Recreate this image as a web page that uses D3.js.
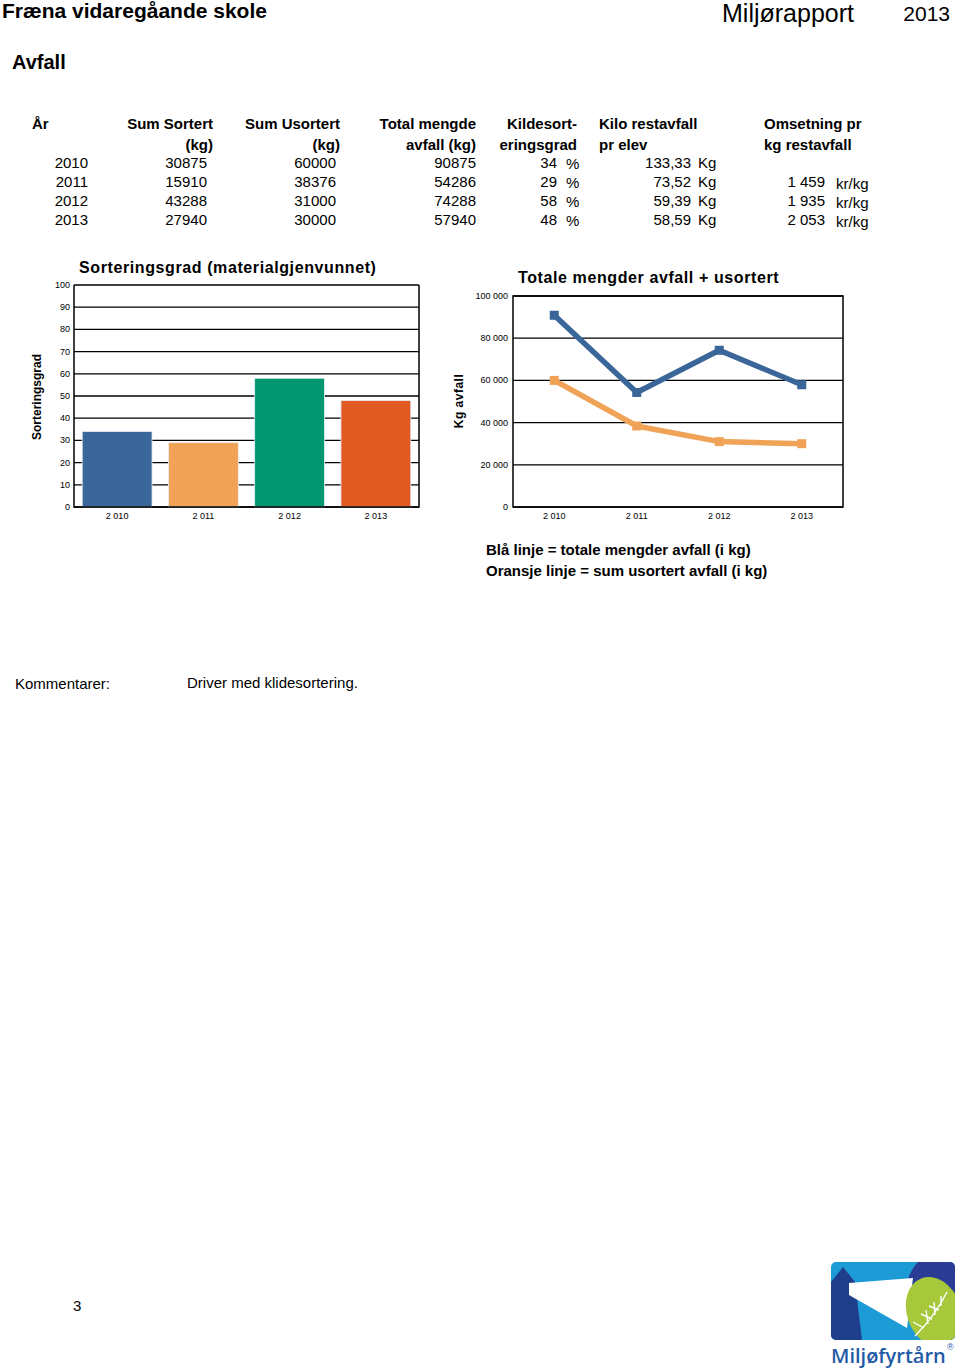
<!DOCTYPE html>
<html>
<head>
<meta charset="utf-8">
<script src="https://cdn.jsdelivr.net/npm/d3@7"></script>
<style>
  body { margin: 0; background: #fff; }
  svg { display: block; font-family: "Liberation Sans", Arial, sans-serif; }
</style>
</head>
<body>
<svg id="page" width="960" height="1371"></svg>
<script>
// data
const years = ["2010", "2011", "2012", "2013"];
const yearTicks = ["2 010", "2 011", "2 012", "2 013"];
const sumSortert = [30875, 15910, 43288, 27940];
const sumUsortert = [60000, 38376, 31000, 30000];
const totalMengde = [90875, 54286, 74288, 57940];
const sorteringsgrad = [34, 29, 58, 48];
const kiloPrElev = ["133,33", "73,52", "59,39", "58,59"];
const omsetning = ["", "1 459", "1 935", "2 053"];
const barColors = ["#3a6699", "#f0a356", "#009670", "#e05a22"];

const svg = d3.select("#page");

// --- header ---
svg.append("text").attr("x", 2).attr("y", 18)
    .attr("font-size", 21).attr("font-weight", "bold").text("Fræna vidaregåande skole");
svg.append("text").attr("x", 722).attr("y", 22)
    .attr("font-size", 25).text("Miljørapport");
svg.append("text").attr("x", 950).attr("y", 21).attr("text-anchor", "end")
    .attr("font-size", 21).text("2013");
svg.append("text").attr("x", 12).attr("y", 69)
    .attr("font-size", 20).attr("font-weight", "bold").text("Avfall");

// --- table ---
const tbl = svg.append("g").attr("font-size", 15);
const hdr = tbl.append("g").attr("font-weight", "bold");
function t(g, x, y, s, anchor) {
    g.append("text").attr("x", x).attr("y", y).attr("text-anchor", anchor || "start").text(s);
}
t(hdr, 32, 129, "År");
t(hdr, 213, 129, "Sum Sortert", "end");   t(hdr, 213, 150, "(kg)", "end");
t(hdr, 340, 129, "Sum Usortert", "end");  t(hdr, 340, 150, "(kg)", "end");
t(hdr, 476, 129, "Total mengde", "end");  t(hdr, 476, 150, "avfall (kg)", "end");
t(hdr, 577, 129, "Kildesort-", "end");    t(hdr, 577, 150, "eringsgrad", "end");
t(hdr, 599, 129, "Kilo restavfall");      t(hdr, 599, 150, "pr elev");
t(hdr, 764, 129, "Omsetning pr");         t(hdr, 764, 150, "kg restavfall");

const rowY = d3.scaleLinear().domain([0, 3]).range([168, 225]);
years.forEach((yr, i) => {
    const y = rowY(i);
    t(tbl, 88, y, yr, "end");
    t(tbl, 207, y, sumSortert[i], "end");
    t(tbl, 336, y, sumUsortert[i], "end");
    t(tbl, 476, y, totalMengde[i], "end");
    t(tbl, 557, y, sorteringsgrad[i], "end");
    t(tbl, 566, y + 1, "%");
    t(tbl, 691, y, kiloPrElev[i], "end");
    t(tbl, 698, y, "Kg");
    if (omsetning[i]) {
        t(tbl, 825, y, omsetning[i], "end");
        t(tbl, 836, y + 2, "kr/kg");
    }
});

// --- bar chart: Sorteringsgrad ---
const bar = { left: 74, right: 419, top: 285, bottom: 507 };
const bx = d3.scaleBand().domain(years).range([bar.left, bar.right]).paddingInner(0.19).paddingOuter(0.095);
const by = d3.scaleLinear().domain([0, 100]).range([bar.bottom, bar.top]);
const gb = svg.append("g");

gb.append("g").selectAll("line").data(d3.range(0, 101, 10)).join("line")
    .attr("x1", bar.left).attr("x2", bar.right)
    .attr("y1", d => by(d)).attr("y2", d => by(d))
    .attr("stroke", "#000").attr("stroke-width", 1.3);

gb.append("g").selectAll("rect").data(years).join("rect")
    .attr("x", d => bx(d)).attr("width", bx.bandwidth())
    .attr("y", (d, i) => by(sorteringsgrad[i]))
    .attr("height", (d, i) => by(0) - by(sorteringsgrad[i]))
    .attr("fill", (d, i) => barColors[i])
    .attr("stroke", "#e8eef4").attr("stroke-width", 0.8);

gb.append("path")
    .attr("d", `M${bar.left},${bar.top}V${bar.bottom}H${bar.right}V${bar.top}`)
    .attr("fill", "none").attr("stroke", "#000").attr("stroke-width", 1.5);

gb.append("g").attr("font-size", 9).attr("text-anchor", "end")
    .selectAll("text").data(d3.range(0, 101, 10)).join("text")
    .attr("x", bar.left - 4).attr("y", d => by(d) + 3).text(d => d);

gb.append("g").attr("font-size", 9).attr("text-anchor", "middle")
    .selectAll("text").data(years).join("text")
    .attr("x", d => bx(d) + bx.bandwidth() / 2).attr("y", bar.bottom + 12)
    .text((d, i) => yearTicks[i]);

gb.append("text").attr("transform", "translate(41,397) rotate(-90)")
    .attr("text-anchor", "middle").attr("font-size", 12).attr("font-weight", "bold")
    .text("Sorteringsgrad");
gb.append("text").attr("x", 79).attr("y", 273).attr("font-size", 16)
    .attr("font-weight", "bold").attr("letter-spacing", 0.6)
    .text("Sorteringsgrad (materialgjenvunnet)");

// --- line chart: Totale mengder ---
const ln = { left: 513, right: 843, top: 296, bottom: 507 };
const lx = d3.scaleBand().domain(years).range([ln.left, ln.right]);
const ly = d3.scaleLinear().domain([0, 100000]).range([ln.bottom, ln.top]);
const gl = svg.append("g");
const fmt = d => d === 0 ? "0" : d3.format(",")(d).replace(/,/g, " ");

gl.append("g").selectAll("line").data(d3.range(0, 100001, 20000)).join("line")
    .attr("x1", ln.left).attr("x2", ln.right)
    .attr("y1", d => ly(d)).attr("y2", d => ly(d))
    .attr("stroke", "#000").attr("stroke-width", 1.3);
gl.append("path")
    .attr("d", `M${ln.left},${ln.top}V${ln.bottom}H${ln.right}V${ln.top}Z`)
    .attr("fill", "none").attr("stroke", "#000").attr("stroke-width", 1.5);

const cx = d => lx(d) + lx.bandwidth() / 2;
const series = [
    { values: totalMengde, color: "#3a6699" },
    { values: sumUsortert, color: "#f0a356" }
];
series.forEach(s => {
    const line = d3.line().x((d, i) => cx(years[i])).y(d => ly(d));
    gl.append("path").attr("d", line(s.values))
        .attr("fill", "none").attr("stroke", s.color).attr("stroke-width", 5.5)
        .attr("stroke-linejoin", "round");
    gl.append("g").selectAll("rect").data(s.values).join("rect")
        .attr("x", (d, i) => cx(years[i]) - 4.5).attr("y", d => ly(d) - 4.5)
        .attr("width", 9).attr("height", 9).attr("fill", s.color);
});

gl.append("g").attr("font-size", 9).attr("text-anchor", "end")
    .selectAll("text").data(d3.range(0, 100001, 20000)).join("text")
    .attr("x", ln.left - 5).attr("y", d => ly(d) + 3).text(fmt);
gl.append("g").attr("font-size", 9).attr("text-anchor", "middle")
    .selectAll("text").data(years).join("text")
    .attr("x", cx).attr("y", ln.bottom + 12).text((d, i) => yearTicks[i]);

gl.append("text").attr("transform", "translate(463,401) rotate(-90)")
    .attr("text-anchor", "middle").attr("font-size", 12).attr("font-weight", "bold")
    .attr("letter-spacing", 0.5).text("Kg avfall");
gl.append("text").attr("x", 518).attr("y", 283).attr("font-size", 16)
    .attr("font-weight", "bold").attr("letter-spacing", 0.6)
    .text("Totale mengder avfall + usortert");

// legend text
svg.append("text").attr("x", 486).attr("y", 555).attr("font-size", 15)
    .attr("font-weight", "bold").text("Blå linje = totale mengder avfall (i kg)");
svg.append("text").attr("x", 486).attr("y", 576).attr("font-size", 15)
    .attr("font-weight", "bold").text("Oransje linje = sum usortert avfall (i kg)");

// comments
svg.append("text").attr("x", 15).attr("y", 689).attr("font-size", 15).text("Kommentarer:");
svg.append("text").attr("x", 187).attr("y", 688).attr("font-size", 15).text("Driver med klidesortering.");

// page number
svg.append("text").attr("x", 73).attr("y", 1311).attr("font-size", 15).text("3");

// --- logo (simplified) ---
const logo = svg.append("g").attr("transform", "translate(831,1262)");
logo.append("clipPath").attr("id", "lc").append("rect")
    .attr("width", 124).attr("height", 78).attr("rx", 5);
const lg = logo.append("g").attr("clip-path", "url(#lc)");
lg.append("rect").attr("width", 124).attr("height", 78).attr("fill", "#1d9bd7");
lg.append("path").attr("d", "M0,78 L0,20 L12,5 L24,20 L31,78 Z").attr("fill", "#1f3e8c");
lg.append("ellipse").attr("cx", 108).attr("cy", 36).attr("rx", 34).attr("ry", 46).attr("fill", "#2b3c95");
lg.append("path").attr("d", "M18,21 L82,16 L76,66 L18,33 Z").attr("fill", "#fff");
lg.append("ellipse").attr("cx", 103).attr("cy", 50).attr("rx", 27).attr("ry", 36)
    .attr("transform", "rotate(-20,103,50)").attr("fill", "#a6c83a");
lg.append("path").attr("d", "M84,74 C98,60 108,46 116,30 M97,62 L95,48 M104,53 L103,40 M110,44 L110,34 M93,66 L82,60 M101,57 L90,52 M108,48 L98,44")
    .attr("stroke", "#fff").attr("stroke-width", 1.4).attr("fill", "none");
logo.append("text").attr("x", 0).attr("y", 101).attr("font-family", "'Open Sans', sans-serif")
    .attr("font-size", 20).attr("fill", "#1f5aa6").attr("font-weight", "600").text("Miljøfyrtårn");
logo.append("text").attr("x", 116).attr("y", 88).attr("font-size", 9).attr("fill", "#1f5aa6").text("®");
</script>
</body>
</html>
